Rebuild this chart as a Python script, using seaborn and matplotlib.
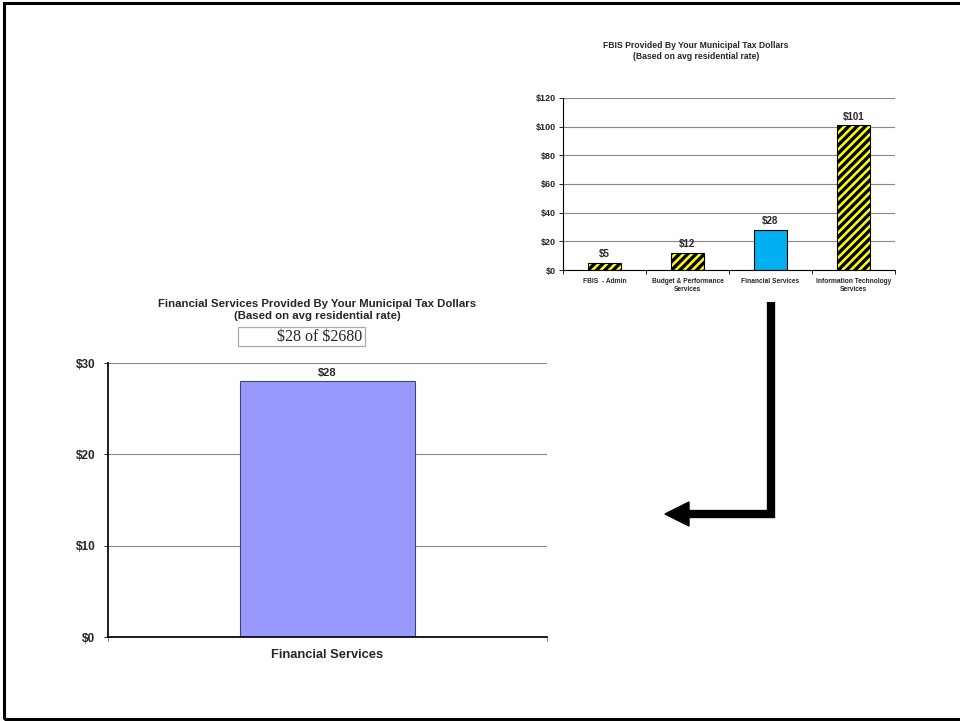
import matplotlib
matplotlib.use("Agg")
import matplotlib.pyplot as plt
import seaborn as sns
import pandas as pd
from matplotlib.lines import Line2D
from matplotlib.patches import Polygon, Rectangle

sns.set_theme(style="white")
plt.rcParams['font.family'] = ['Liberation Sans', 'DejaVu Sans']
plt.rcParams['hatch.linewidth'] = 2.4
plt.rcParams['hatch.color'] = 'black'

# ---- data ----
fbis_categories = ["FBIS  - Admin", "Budget & Performance\nServices",
                   "Financial Services", "Information Technology\nServices"]
fbis_values = [5, 12, 28, 101]
fbis_labels = ["$5", "$12", "$28", "$101"]
fbis_yticks = [0, 20, 40, 60, 80, 100, 120]

fs_categories = ["Financial Services"]
fs_values = [28]
fs_labels = ["$28"]
fs_yticks = [0, 10, 20, 30]
fs_note = "$28 of $2680"

W, H = 960, 721
fig = plt.figure(figsize=(W / 100, H / 100), dpi=100)
fig.patch.set_facecolor('white')

def fx(px):
    return px / W

def fy(py):
    return 1 - py / H

# ---- small chart (top right) ----
ax1 = fig.add_axes([fx(563), fy(270), (895 - 563) / W, (270 - 98) / H])
df1 = pd.DataFrame({"cat": fbis_categories, "val": fbis_values})
colors1 = ["#FFFF00", "#FFFF00", "#00B0F0", "#FFFF00"]
sns.barplot(data=df1, x="cat", y="val", hue="cat", palette=colors1,
            width=0.4, legend=False, ax=ax1, saturation=1)
for i, p in enumerate(ax1.patches):
    p.set_edgecolor('black')
    p.set_linewidth(0.8)
    if fbis_categories[i] != "Financial Services":
        p.set_hatch('////')
for i, p in enumerate(ax1.patches):
    ax1.text(p.get_x() + p.get_width() / 2, p.get_height() + 2.5, fbis_labels[i],
             ha='center', va='bottom', fontsize=7, fontweight='bold')
ax1.set_ylim(0, 120)
ax1.set_yticks(fbis_yticks)
ax1.set_yticklabels([f"${v}" for v in fbis_yticks], fontsize=6.5, fontweight='bold')
ax1.set_xticks(range(len(fbis_categories)))
ax1.set_xticklabels(fbis_categories, fontsize=4.8, fontweight='bold')
ax1.set_xticks([-0.5, 0.5, 1.5, 2.5, 3.5], minor=True)
ax1.set_xlim(-0.5, 3.5)
ax1.set_xlabel("")
ax1.set_ylabel("")
ax1.yaxis.grid(True, color='#888888', linewidth=0.8)
ax1.set_axisbelow(True)
for s in ['top', 'right']:
    ax1.spines[s].set_visible(False)
ax1.spines['left'].set_color('black')
ax1.spines['bottom'].set_color('black')
ax1.spines['left'].set_linewidth(0.8)
ax1.spines['bottom'].set_linewidth(0.8)
ax1.tick_params(axis='y', left=True, length=3, width=0.6, pad=2, color='black')
ax1.tick_params(axis='x', which='major', bottom=False, pad=0)
ax1.tick_params(axis='x', which='minor', bottom=True, length=3, width=0.6, color='black')
ax1.set_facecolor('none')
fig.text(fx(696), fy(51), "FBIS Provided By Your Municipal Tax Dollars\n(Based on avg residential rate)",
         ha='center', va='center', fontsize=6.2, fontweight='bold', linespacing=1.25)

# ---- large chart (bottom left) ----
ax2 = fig.add_axes([fx(108), fy(637), (547 - 108) / W, (637 - 363) / H])
df2 = pd.DataFrame({"cat": fs_categories, "val": fs_values})
sns.barplot(data=df2, x="cat", y="val", color="#9999FF", width=0.4,
            ax=ax2, saturation=1)
for p in ax2.patches:
    p.set_edgecolor('#444466')
    p.set_linewidth(0.8)
    ax2.text(p.get_x() + p.get_width() / 2, p.get_height() + 0.4, fs_labels[0],
             ha='center', va='bottom', fontsize=8, fontweight='bold')
ax2.set_ylim(0, 30)
ax2.set_yticks(fs_yticks)
ax2.set_yticklabels([f"${v}" for v in fs_yticks], fontsize=8.5, fontweight='bold')
ax2.set_xticks([0])
ax2.set_xticklabels(fs_categories, fontsize=9.3, fontweight='bold')
ax2.set_xticks([-0.5, 0.5], minor=True)
ax2.set_xlim(-0.5, 0.5)
ax2.set_xlabel("")
ax2.set_ylabel("")
ax2.yaxis.grid(True, color='#888888', linewidth=0.8)
ax2.set_axisbelow(True)
for s in ['top', 'right']:
    ax2.spines[s].set_visible(False)
ax2.spines['left'].set_color('black')
ax2.spines['bottom'].set_color('black')
ax2.tick_params(axis='y', left=True, length=3, width=0.6, pad=6, color='black')
ax2.tick_params(axis='x', which='major', bottom=False, pad=3)
ax2.tick_params(axis='x', which='minor', bottom=True, length=3, width=0.6, color='#666666')
ax2.set_facecolor('none')
fig.text(fx(317), fy(310), "Financial Services Provided By Your Municipal Tax Dollars\n(Based on avg residential rate)",
         ha='center', va='center', fontsize=8.2, fontweight='bold', linespacing=1.2)
fig.add_artist(Rectangle((fx(238), fy(346)), fx(365) - fx(238), fy(327) - fy(346),
                         facecolor='white', edgecolor='#aaaaaa', linewidth=0.9,
                         transform=fig.transFigure))
fig.text(fx(320), fy(337), fs_note, ha='center', va='center', fontsize=11.5,
         family=['Liberation Serif', 'DejaVu Serif'], parse_math=False)

# ---- arrow ----
fig.add_artist(Line2D([fx(771), fx(771), fx(686)], [fy(302), fy(514), fy(514)],
                      color='black', linewidth=6, solid_joinstyle='miter',
                      solid_capstyle='butt', transform=fig.transFigure))
fig.add_artist(Polygon([[fx(665), fy(514)], [fx(689), fy(502)], [fx(689), fy(526)]],
                       closed=True, facecolor='black', edgecolor='black',
                       transform=fig.transFigure))

# ---- frame ----
fig.add_artist(Rectangle((fx(4), fy(719)), fx(1000), fy(3) - fy(719), fill=False,
                         edgecolor='black', linewidth=2.2, transform=fig.transFigure))

fig.savefig("out.png", dpi=100, facecolor='white')
